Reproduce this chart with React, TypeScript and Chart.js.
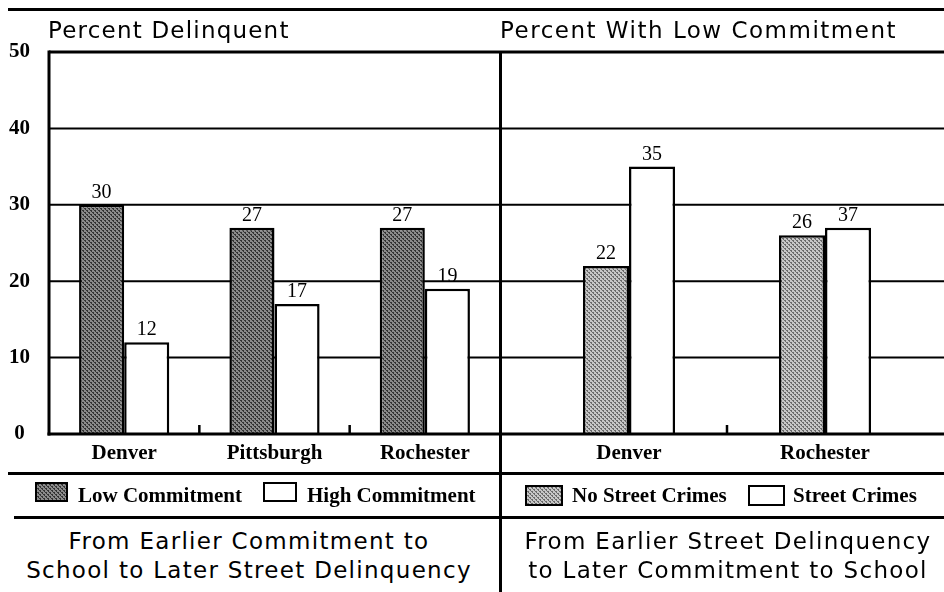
import React, { useEffect, useMemo, useRef } from "react";
import { Chart, registerables } from "chart.js";

Chart.register(...registerables);

// ---------- data ----------
const leftTitle = "Percent Delinquent";
const rightTitle = "Percent With Low Commitment";
const leftCities = ["Denver", "Pittsburgh", "Rochester"];
const lowCommitment = [30, 27, 27];
const highCommitment = [12, 17, 19];
const rightCities = ["Denver", "Rochester"];
const noStreetCrimes = [22, 26];
const streetCrimes = [35, 27]; // bar heights as drawn in the source figure
const streetCrimesLabels = ["35", "37"]; // the source prints 37 over the Rochester bar
const yTickValues = [0, 10, 20, 30, 40, 50];
const leftLegend = ["Low Commitment", "High Commitment"];
const rightLegend = ["No Street Crimes", "Street Crimes"];
const leftCaption = ["From Earlier Commitment to", "School to Later Street Delinquency"];
const rightCaption = ["From Earlier Street Delinquency", "to Later Commitment to School"];

// ---------- styles ----------
const SERIF = "'Liberation Serif', 'Times New Roman', serif";
const SANS = "'DejaVu Sans', sans-serif";

function makeTile(bg: string, dot: string): HTMLCanvasElement {
  const c = document.createElement("canvas");
  c.width = 4;
  c.height = 4;
  const g = c.getContext("2d")!;
  g.fillStyle = bg;
  g.fillRect(0, 0, 4, 4);
  g.fillStyle = dot;
  g.fillRect(0, 0, 2, 1);
  g.fillRect(1, 1, 1, 1);
  g.fillRect(2, 2, 2, 1);
  g.fillRect(3, 3, 1, 1);
  return c;
}

const DARK = ["#8a8a8a", "#333333"];
const LIGHT = ["#c6c6c6", "#6a6a6a"];

const framePlugin = {
  id: "frame",
  beforeDatasetsDraw(chart: any, _a: any, opts: any) {
    const { ctx, chartArea } = chart;
    const y = chart.scales.y;
    const x0 = opts.full ? 0 : chartArea.left;
    const x1 = opts.full ? chart.width : chartArea.right;
    ctx.save();
    ctx.strokeStyle = "#000";
    for (const v of yTickValues) {
      if (v === 0) continue;
      const py = y.getPixelForValue(v);
      ctx.lineWidth = v === 50 ? 3 : 2;
      ctx.beginPath();
      ctx.moveTo(x0, py);
      ctx.lineTo(x1, py);
      ctx.stroke();
    }
    ctx.restore();
  },
  afterDatasetsDraw(chart: any, _a: any, opts: any) {
    const { ctx, chartArea } = chart;
    const y = chart.scales.y;
    const x = chart.scales.x;
    const x0 = opts.full ? 0 : chartArea.left - 1.5;
    const x1 = opts.full ? chart.width : chartArea.right;
    const base = y.getPixelForValue(0);
    ctx.save();
    ctx.strokeStyle = "#000";
    ctx.lineWidth = 3;
    ctx.beginPath();
    ctx.moveTo(x0, base);
    ctx.lineTo(x1, base);
    ctx.stroke();
    if (opts.yLine) {
      ctx.beginPath();
      ctx.moveTo(chartArea.left, y.getPixelForValue(50) - 1.5);
      ctx.lineTo(chartArea.left, base + 1.5);
      ctx.stroke();
    }
    ctx.lineWidth = 2.5;
    const n = x.getLabels().length;
    for (let i = 0; i < n - 1; i++) {
      const bx = (x.getPixelForValue(i) + x.getPixelForValue(i + 1)) / 2;
      ctx.beginPath();
      ctx.moveTo(bx, base - 9);
      ctx.lineTo(bx, base);
      ctx.stroke();
    }
    ctx.restore();
  },
};

const labelPlugin = {
  id: "valueLabels",
  afterDatasetsDraw(chart: any) {
    const { ctx } = chart;
    ctx.save();
    ctx.fillStyle = "#000";
    ctx.font = `20px ${SERIF}`;
    ctx.textAlign = "center";
    ctx.textBaseline = "alphabetic";
    chart.data.datasets.forEach((ds: any, i: number) => {
      const meta = chart.getDatasetMeta(i);
      meta.data.forEach((el: any, j: number) => {
        const txt = ds.valueLabels ? ds.valueLabels[j] : String(ds.data[j]);
        ctx.fillText(txt, el.x, el.y - 7);
      });
    });
    ctx.restore();
  },
};

function baseOptions(full: boolean, yLine: boolean, padLeft: number, padRight: number, catPct: number, showY: boolean): any {
  const y: any = {
    display: showY,
    min: 0,
    max: 50,
    grid: { display: false, drawTicks: false },
    border: { display: false },
    ticks: {
      stepSize: 10,
      color: "#000",
      padding: 19,
      crossAlign: "center",
      font: { family: SERIF, size: 21, weight: "bold" },
    },
  };
  if (showY) {
    y.afterFit = (s: any) => {
      s.width = 49;
    };
  }
  return {
    responsive: false,
    animation: false,
    events: [],
    layout: { padding: { top: 52, left: padLeft, right: padRight, bottom: 0 } },
    datasets: { bar: { categoryPercentage: catPct, barPercentage: 1 } },
    plugins: {
      legend: { display: false },
      tooltip: { enabled: false },
      frame: { full, yLine },
    },
    scales: {
      x: {
        grid: { display: false, drawTicks: false },
        border: { display: false },
        ticks: { color: "#000", padding: 7, font: { family: SERIF, size: 21, weight: "bold" } },
        afterFit: (s: any) => {
          s.height = 36;
        },
      },
      y,
    },
  };
}

function Line({ left, top, width, height }: { left: number; top: number; width: number; height: number }) {
  return <div style={{ position: "absolute", left, top, width, height, background: "#000" }} />;
}

export default function App() {
  const leftRef = useRef<HTMLCanvasElement>(null);
  const rightRef = useRef<HTMLCanvasElement>(null);

  const swatches = useMemo(() => {
    return {
      dark: makeTile(DARK[0], DARK[1]).toDataURL(),
      light: makeTile(LIGHT[0], LIGHT[1]).toDataURL(),
    };
  }, []);

  useEffect(() => {
    const lctx = leftRef.current!.getContext("2d")!;
    const rctx = rightRef.current!.getContext("2d")!;
    const darkPat = lctx.createPattern(makeTile(DARK[0], DARK[1]), "repeat");
    const lightPat = rctx.createPattern(makeTile(LIGHT[0], LIGHT[1]), "repeat");

    const left = new Chart(lctx, {
      type: "bar",
      data: {
        labels: leftCities,
        datasets: [
          { label: leftLegend[0], data: lowCommitment, backgroundColor: darkPat as any, borderColor: "#000", borderWidth: 2.5 },
          { label: leftLegend[1], data: highCommitment, backgroundColor: "#fff", borderColor: "#000", borderWidth: 2.5 },
        ],
      },
      options: baseOptions(false, true, 0, 0, 0.6, true),
      plugins: [framePlugin, labelPlugin],
    });

    const right = new Chart(rctx, {
      type: "bar",
      data: {
        labels: rightCities,
        datasets: [
          { label: rightLegend[0], data: noStreetCrimes, backgroundColor: lightPat as any, borderColor: "#000", borderWidth: 2.5 },
          {
            label: rightLegend[1],
            data: streetCrimes,
            valueLabels: streetCrimesLabels,
            backgroundColor: "#fff",
            borderColor: "#000",
            borderWidth: 2.5,
          } as any,
        ],
      },
      options: baseOptions(true, false, 31, 21, 0.47, false),
      plugins: [framePlugin, labelPlugin],
    });

    return () => {
      left.destroy();
      right.destroy();
    };
  }, []);

  const titleStyle: React.CSSProperties = {
    position: "absolute",
    top: 19,
    fontFamily: SANS,
    fontSize: 23,
    lineHeight: "23px",
    color: "#000",
    whiteSpace: "nowrap",
  };
  const legendText: React.CSSProperties = {
    position: "absolute",
    top: 485,
    fontFamily: SERIF,
    fontWeight: "bold",
    fontSize: 21,
    lineHeight: "21px",
    color: "#000",
    whiteSpace: "nowrap",
  };
  const swatch = (left: number, top: number, w: number, h: number, img: string | null): React.CSSProperties => ({
    position: "absolute",
    left,
    top,
    width: w,
    height: h,
    boxSizing: "border-box",
    border: "2px solid #000",
    background: img ? `url(${img}) repeat` : "#fff",
  });
  const captionStyle = (cx: number, top: number): React.CSSProperties => ({
    position: "absolute",
    left: cx - 250,
    width: 500,
    top,
    textAlign: "center",
    fontFamily: SANS,
    fontSize: 23,
    lineHeight: "29px",
    letterSpacing: "1.3px",
    color: "#000",
    whiteSpace: "nowrap",
  });

  return (
    <div style={{ position: "fixed", left: 0, top: 0, width: 944, height: 592, background: "#fff", overflow: "hidden" }}>
      <canvas ref={leftRef} width={500} height={470} style={{ position: "absolute", left: 0, top: 0 }} />
      <canvas ref={rightRef} width={444} height={470} style={{ position: "absolute", left: 500, top: 0 }} />

      <Line left={8} top={8} width={936} height={3} />
      <Line left={499} top={52} width={3} height={540} />
      <Line left={8} top={472} width={936} height={3} />
      <Line left={14} top={516} width={930} height={3} />

      <div style={{ ...titleStyle, left: 48, letterSpacing: "1.2px" }}>{leftTitle}</div>
      <div style={{ ...titleStyle, left: 500, letterSpacing: "1.5px" }}>{rightTitle}</div>

      <div style={swatch(35, 482, 33, 20, swatches.dark)} />
      <div style={{ ...legendText, left: 78 }}>{leftLegend[0]}</div>
      <div style={swatch(263, 482, 34, 20, null)} />
      <div style={{ ...legendText, left: 307 }}>{leftLegend[1]}</div>

      <div style={swatch(525, 485, 38, 21, swatches.light)} />
      <div style={{ ...legendText, left: 572 }}>{rightLegend[0]}</div>
      <div style={swatch(748, 485, 37, 21, null)} />
      <div style={{ ...legendText, left: 793 }}>{rightLegend[1]}</div>

      <div style={captionStyle(249, 527)}>{leftCaption[0]}</div>
      <div style={captionStyle(249, 556)}>{leftCaption[1]}</div>
      <div style={captionStyle(728, 527)}>{rightCaption[0]}</div>
      <div style={captionStyle(728, 556)}>{rightCaption[1]}</div>
    </div>
  );
}
